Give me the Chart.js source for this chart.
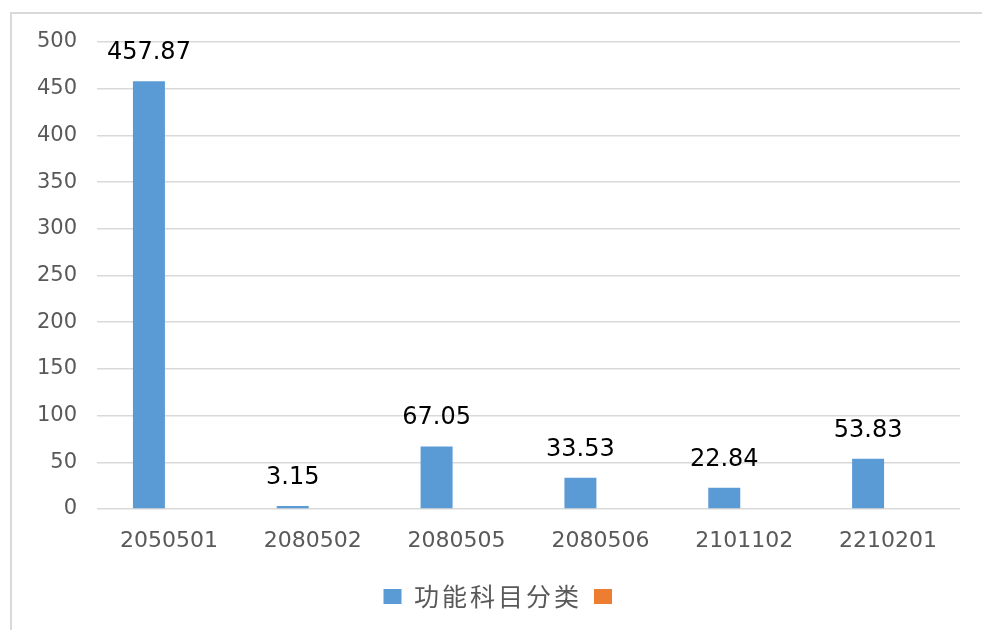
<!DOCTYPE html>
<html>
<head>
<meta charset="utf-8">
<script src="https://cdn.jsdelivr.net/npm/chart.js@4"></script>
<style>
    body { margin: 0; background: #fff; overflow: hidden; }
</style>
</head>
<body>
<canvas id="chart" width="982" height="630"></canvas>
<script>
var categories = ['2050501', '2080502', '2080505', '2080506', '2101102', '2210201'];
var values = [457.87, 3.15, 67.05, 33.53, 22.84, 53.83];
var emptySeries = [null, null, null, null, null, null];
var seriesNames = ['功能科目分类', ''];
var yTicks = [0, 50, 100, 150, 200, 250, 300, 350, 400, 450, 500];

var frameLines = {
    id: 'frameLines',
    beforeDraw: function (chart) {
        var ctx = chart.ctx;
        ctx.save();
        ctx.strokeStyle = '#d9d9d9';
        ctx.lineWidth = 2;
        ctx.beginPath();
        ctx.moveTo(11, chart.height);
        ctx.lineTo(11, 13);
        ctx.lineTo(chart.width, 13);
        ctx.stroke();
        ctx.restore();
    }
};

var valueLabels = {
    id: 'valueLabels',
    afterDatasetsDraw: function (chart) {
        var ctx = chart.ctx;
        var meta = chart.getDatasetMeta(0);
        ctx.save();
        ctx.font = '24px "DejaVu Sans"';
        ctx.fillStyle = '#000000';
        ctx.textAlign = 'center';
        ctx.textBaseline = 'alphabetic';
        for (var i = 0; i < meta.data.length; i++) {
            var bar = meta.data[i];
            ctx.fillText(values[i].toFixed(2), bar.x, bar.y - 22);
        }
        ctx.restore();
    }
};

var ctx = document.getElementById('chart').getContext('2d');
var myChart = new Chart(ctx, {
    type: 'bar',
    data: {
        labels: categories,
        datasets: [{
            label: seriesNames[0],
            data: values,
            backgroundColor: '#5B9BD5',
            barPercentage: 0.8,
            categoryPercentage: 0.556
        }, {
            label: seriesNames[1],
            data: emptySeries,
            backgroundColor: '#ED7D31',
            barPercentage: 0.8,
            categoryPercentage: 0.556
        }]
    },
    options: {
        responsive: false,
        animation: false,
        layout: { padding: { left: 20, right: 22, top: 42, bottom: 11 } },
        plugins: {
            tooltip: { enabled: false },
            legend: {
                position: 'bottom',
                labels: {
                    boxWidth: 18,
                    boxHeight: 15,
                    padding: 12,
                    color: '#595959',
                    font: { family: '"Noto Sans CJK SC"', size: 25 }
                }
            }
        },
        scales: {
            x: {
                grid: { display: false },
                border: { display: false },
                ticks: { color: '#595959', padding: 11, font: { family: '"DejaVu Sans"', size: 22 } },
                afterFit: function (scale) { scale.height = 63; }
            },
            y: {
                min: 0,
                max: 500,
                afterBuildTicks: function (scale) {
                    scale.ticks = yTicks.map(function (v) { return { value: v }; });
                },
                grid: { color: '#d9d9d9', lineWidth: 1.5, drawTicks: false },
                border: { display: false },
                ticks: { color: '#595959', padding: 20, font: { family: '"DejaVu Sans"', size: 21 } },
                afterFit: function (scale) { scale.width = 77; }
            }
        }
    },
    plugins: [frameLines, valueLabels]
});

// legend text is spaced wider than the font gives and sits a bit right of centre
var legendBox = myChart.legend;
var baseFit = legendBox.fit;
var baseDraw = legendBox.draw;
legendBox.fit = function () {
    this.ctx.letterSpacing = '3px';
    baseFit.apply(this, arguments);
    this.ctx.letterSpacing = '0px';
};
legendBox.draw = function () {
    this.ctx.save();
    this.ctx.translate(14, 0);
    this.ctx.letterSpacing = '3px';
    baseDraw.apply(this, arguments);
    this.ctx.restore();
    this.ctx.letterSpacing = '0px';
};
myChart.update();
</script>
</body>
</html>
